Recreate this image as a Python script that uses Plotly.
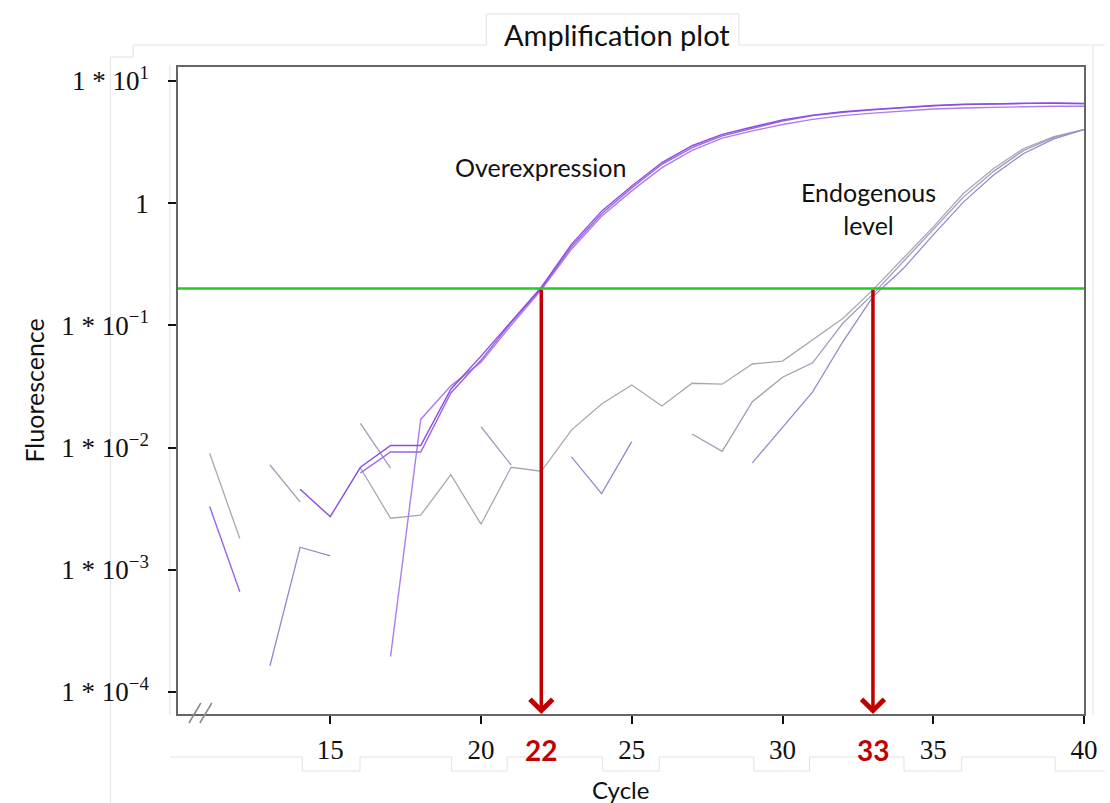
import plotly.graph_objects as go
import math

cycles = list(range(11, 41))

# Overexpression replicates (None = not plotted / negative)
over_1 = [None, None, None, 0.00456, 0.00272, 0.0069, 0.0104, 0.0104, 0.030, 0.056,
          0.108, 0.205, 0.46, 0.86, 1.38, 2.15, 2.95, 3.65, 4.2, 4.8,
          5.25, 5.6, 5.85, 6.1, 6.3, 6.45, 6.5, 6.55, 6.6, 6.55]
over_2 = [0.0033, 0.00066, None, None, None, 0.0062, 0.0092, 0.0092, 0.028, 0.052,
          0.105, 0.20, 0.44, 0.82, 1.33, 2.08, 2.85, 3.55, 4.1, 4.7,
          5.2, 5.55, 5.8, 6.05, 6.25, 6.4, 6.5, 6.55, 6.55, 6.5]
over_3 = [None, None, None, None, None, None, 0.000195, 0.017, 0.032, 0.050,
          0.100, 0.195, 0.42, 0.78, 1.26, 1.95, 2.7, 3.4, 3.9, 4.4,
          4.85, 5.2, 5.45, 5.7, 5.9, 6.0, 6.1, 6.15, 6.2, 6.2]

# Endogenous replicates
endo_1 = [0.009, 0.0018, None, None, None, 0.0068, 0.00264, 0.0028, 0.006, 0.00236,
          0.0069, 0.0064, 0.0139, 0.0227, 0.0325, 0.0219, 0.0336, 0.033, 0.0483, 0.051,
          0.076, 0.114, 0.195, 0.353, 0.64, 1.2, 1.92, 2.8, 3.5, 4.0]
endo_2 = [None, None, 0.0072, 0.0036, None, 0.0158, 0.0068, None, None, 0.0148,
          0.0072, None, None, None, None, None, 0.0129, 0.0093, 0.0237, 0.0376,
          0.0494, 0.104, 0.18, 0.33, 0.60, 1.12, 1.82, 2.7, 3.45, 4.0]
endo_3 = [None, None, 0.000164, 0.00153, 0.0013, None, None, None, None, None,
          None, None, 0.0084, 0.0042, 0.0112, None, None, None, 0.0075, 0.0148,
          0.0286, 0.0734, 0.172, 0.29, 0.55, 1.02, 1.7, 2.55, 3.35, 4.0]

threshold = 0.2
ct_values = [22, 33]
x_ticks = [15, 20, 25, 30, 35, 40]
y_tickvals = [1e-4, 1e-3, 1e-2, 1e-1, 1, 10]
y_ticktext = ["1 * 10<sup>−4</sup>", "1 * 10<sup>−3</sup>", "1 * 10<sup>−2</sup>",
              "1 * 10<sup>−1</sup>", "1", "1 * 10<sup>1</sup>"]

X_RANGE = [9.95, 40]
Y_RANGE = [-4.18, 1.114]

fig = go.Figure()

series = [
    (endo_1, "#a9a6b6", 1.3),
    (endo_2, "#a29bb8", 1.3),
    (endo_3, "#9b86cc", 1.3),
    (over_3, "#ab7eec", 1.4),
    (over_2, "#9c62e8", 1.4),
    (over_1, "#8c4cde", 1.4),
]
for ys, col, w in series:
    fig.add_trace(go.Scatter(x=cycles, y=ys, mode="lines", connectgaps=False,
                             line=dict(color=col, width=w), showlegend=False,
                             hoverinfo="skip"))

# Threshold line
fig.add_trace(go.Scatter(x=[X_RANGE[0], X_RANGE[1] + 0.15], y=[threshold, threshold],
                         mode="lines", line=dict(color="#22cc22", width=2.5),
                         showlegend=False, cliponaxis=False, hoverinfo="skip"))

SANS = "Lato"
TXT = "#111111"

def label(x, y, text, size, xref="paper", yref="paper", color=TXT, angle=0):
    fig.add_annotation(x=x, y=y, xref=xref, yref=yref, text=text, showarrow=False,
                       xanchor="center", yanchor="middle", textangle=angle,
                       font=dict(family=SANS, size=size, color=color))

# Ct arrows
for ct in ct_values:
    fig.add_annotation(x=ct, y=Y_RANGE[0], xref="x", yref="y",
                       ax=ct, ay=math.log10(threshold), axref="x", ayref="y",
                       showarrow=True, arrowhead=4, arrowsize=1.25, arrowwidth=3.5,
                       arrowcolor="#c00000", text="")
    label(ct, -0.056, f"<b>{ct}</b>", 28, xref="x", color="#c00000")

# Text labels
label(21.96, 0.294, "Overexpression", 25, xref="x", yref="y")
label(32.84, -0.041, "Endogenous<br>level", 25, xref="x", yref="y")

# Title and axis titles
label(0.484, 1.05, "Amplification plot", 29)
label(-0.16, 0.5, "Fluorescence", 25, angle=-90)
label(0.488, -0.117, "Cycle", 24)

# Pixel -> paper helpers
L, T, W, H = 178, 67, 911, 647
def px(x):
    return (x - L) / W
def py(y):
    return (T + H - y) / H

# Axis break marks
for x0, x1 in [(189, 201), (200, 212)]:
    fig.add_shape(type="line", xref="paper", yref="paper",
                  x0=px(x0), y0=py(723), x1=px(x1), y1=py(703),
                  line=dict(color="#888888", width=1.5))

# Faint pasted-panel edges visible in the reference
edges = [
    [(110, 803), (110, 57), (133, 57), (133, 45), (488, 45), (488, 14), (742, 14),
     (742, 45), (1110, 45)],
    [(170, 65), (170, 715)],
    [(1098, 45), (1098, 715)],
    [(170, 757), (208, 757), (303, 757), (303, 771), (361, 771), (361, 757), (453, 757),
     (453, 771), (509, 771), (509, 757), (605, 757), (605, 771), (662, 771), (662, 757),
     (757, 757), (757, 771), (813, 771), (813, 757), (908, 757), (908, 771), (966, 771),
     (966, 757), (1060, 757), (1060, 771), (1110, 771)],
]
for poly in edges:
    path = "M " + " L ".join(f"{px(a):.5f},{py(b):.5f}" for a, b in poly)
    fig.add_shape(type="path", xref="paper", yref="paper", path=path,
                  line=dict(color="#e2e2e2", width=1), layer="below")

fig.update_layout(
    width=1110, height=803,
    margin=dict(l=L, r=1110 - L - W, t=T, b=803 - T - H),
    paper_bgcolor="white", plot_bgcolor="white",
    xaxis=dict(range=X_RANGE, tickvals=x_ticks, ticks="outside", ticklen=8,
               tickcolor="#111111", tickwidth=1.5, showgrid=False, zeroline=False,
               showline=True, linecolor="#666666", linewidth=1.5, mirror=True,
               ticklabelstandoff=3,
               tickfont=dict(family="Liberation Serif", size=27, color="#111111")),
    yaxis=dict(type="log", range=Y_RANGE, tickvals=y_tickvals, ticktext=y_ticktext,
               ticks="outside", ticklen=8, tickcolor="#111111", tickwidth=1.5,
               showgrid=False, zeroline=False, showline=True, linecolor="#666666",
               linewidth=1.5, mirror=True, ticklabelstandoff=14,
               tickfont=dict(family="Liberation Serif", size=27, color="#111111")),
)

fig.write_html("out.html")
